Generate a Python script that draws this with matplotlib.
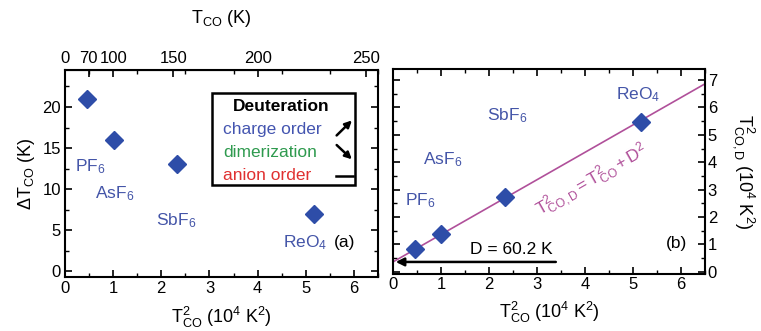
import numpy as np
import matplotlib
matplotlib.use("Agg")
import matplotlib.pyplot as plt
from matplotlib.patches import Rectangle
from matplotlib.ticker import MultipleLocator

plt.rcParams['font.family'] = ['Liberation Sans', 'DejaVu Sans']
plt.rcParams['mathtext.fontset'] = 'custom'
plt.rcParams['mathtext.rm'] = 'Liberation Sans'
plt.rcParams['mathtext.it'] = 'Liberation Sans:italic'
plt.rcParams['mathtext.bf'] = 'Liberation Sans:bold'

# Data
salts = ['PF$_6$', 'AsF$_6$', 'SbF$_6$', 'ReO$_4$']
tco2 = [0.46, 1.01, 2.33, 5.17]          # T_CO^2 (10^4 K^2)
dtco = [21, 16, 13, 7]                   # Delta T_CO (K)
tcod2 = [0.83, 1.37, 2.72, 5.48]         # T_CO,D^2 (10^4 K^2)
D = 60.2                                 # K
top_ticks = [0, 70, 100, 150, 200, 250]  # T_CO (K)

blue = '#2E4DA8'
lblue = '#4455A8'
purple = '#B0509A'

fig = plt.figure(figsize=(7.61, 3.31), dpi=100)
axa = fig.add_axes([0.0854, 0.163, 0.4113, 0.6255])
axb = fig.add_axes([0.5164, 0.172, 0.410, 0.6193])

fs = 12
ft = 12.5
for ax in (axa, axb):
    ax.set_xlim(0, 6.5)
    ax.xaxis.set_major_locator(MultipleLocator(1))
    ax.xaxis.set_minor_locator(MultipleLocator(0.5))
    ax.tick_params(which='both', direction='in', top=True, right=True, labelsize=fs, pad=3)
    ax.tick_params(which='major', length=5, width=1.2)
    ax.tick_params(which='minor', length=3, width=1.0)
    for s in ax.spines.values():
        s.set_linewidth(1.5)
    ax.set_xlabel(r'$\mathregular{T^2_{CO}}$ ($\mathregular{10^4}$ $\mathregular{K^2}$)', fontsize=13, labelpad=6)

# Panel (a)
axa.plot(tco2, dtco, 'D', color=blue, markersize=9.5, linestyle='none')
axa.set_ylim(-0.7, 24.5)
axa.yaxis.set_major_locator(MultipleLocator(5))
axa.yaxis.set_minor_locator(MultipleLocator(2.5))
axa.tick_params(top=False)
axa.set_ylabel(r'$\mathregular{\Delta T_{CO}}$ (K)', fontsize=13, labelpad=4)

sec = axa.secondary_xaxis('top', functions=(lambda x: 100 * np.sqrt(np.maximum(x, 0)),
                                             lambda t: (np.asarray(t) / 100.0) ** 2))
sec.set_xticks(top_ticks)
sec.tick_params(direction='in', length=5, width=1.2, labelsize=fs, pad=3)
sec.set_xlabel(r'$\mathregular{T_{CO}}$ (K)', fontsize=13, labelpad=20)

label_pos_a = [(0.52, 12.7), (1.03, 9.5), (2.3, 6.2), (4.98, 3.5)]
for name, (x, y) in zip(salts, label_pos_a):
    axa.text(x, y, name, color=lblue, fontsize=ft, ha='center', va='center')
axa.text(5.8, 3.5, '(a)', fontsize=ft, ha='center', va='center')

# legend box
axa.add_patch(Rectangle((3.05, 10.5), 2.97, 11.2, fill=False, edgecolor='black', linewidth=1.8, zorder=3))
axa.text(4.5, 20.0, 'Deuteration', fontsize=ft, fontweight='bold', ha='center', va='center')
axa.text(3.28, 17.3, 'charge order', color='#4455B0', fontsize=ft, ha='left', va='center')
axa.text(3.28, 14.5, 'dimerization', color='#2E9A4E', fontsize=ft, ha='left', va='center')
axa.text(3.28, 11.7, 'anion order', color='#E03030', fontsize=ft, ha='left', va='center')
axa.annotate('', xy=(6.0, 18.6), xytext=(5.6, 16.3),
             arrowprops=dict(arrowstyle='-|>', color='black', lw=1.8, mutation_scale=10))
axa.annotate('', xy=(6.0, 13.4), xytext=(5.6, 15.6),
             arrowprops=dict(arrowstyle='-|>', color='black', lw=1.8, mutation_scale=10))
axa.plot([5.62, 5.98], [11.6, 11.6], color='black', lw=1.8)

# Panel (b)
xl = np.array([0, 6.5])
axb.plot(xl, xl + (D / 100.0) ** 2, color=purple, lw=1.2, zorder=2)
axb.plot(tco2, tcod2, 'D', color=blue, markersize=9.5, linestyle='none', zorder=3)
axb.set_ylim(-0.08, 7.4)
axb.yaxis.set_major_locator(MultipleLocator(1))
axb.yaxis.set_minor_locator(MultipleLocator(0.5))
axb.tick_params(labelleft=False, labelright=True, pad=2)
axb.yaxis.set_label_position('right')
axb.set_ylabel(r'$\mathregular{T^2_{CO,D}}$ ($\mathregular{10^4}$ $\mathregular{K^2}$)', fontsize=13,
               rotation=270, labelpad=10, va='bottom')

label_pos_b = [(0.56, 2.6), (1.04, 4.1), (2.37, 5.7), (5.1, 6.45)]
for name, (x, y) in zip(salts, label_pos_b):
    axb.text(x, y, name, color=lblue, fontsize=ft, ha='center', va='center')
axb.text(4.15, 3.35, r'$\mathregular{T^2_{CO,D} = T^2_{CO} + D^2}$', color=purple, fontsize=ft,
         rotation=29.7, ha='center', va='center', rotation_mode='anchor')
axb.annotate('', xy=(0.0, (D / 100.0) ** 2), xytext=(3.45, (D / 100.0) ** 2),
             arrowprops=dict(arrowstyle='-|>', color='black', lw=1.8, mutation_scale=12))
axb.text(2.47, 0.82, 'D = 60.2 K', fontsize=ft, ha='center', va='center')
axb.text(5.9, 1.05, '(b)', fontsize=ft, ha='center', va='center')

fig.savefig('out.png', dpi=100)
